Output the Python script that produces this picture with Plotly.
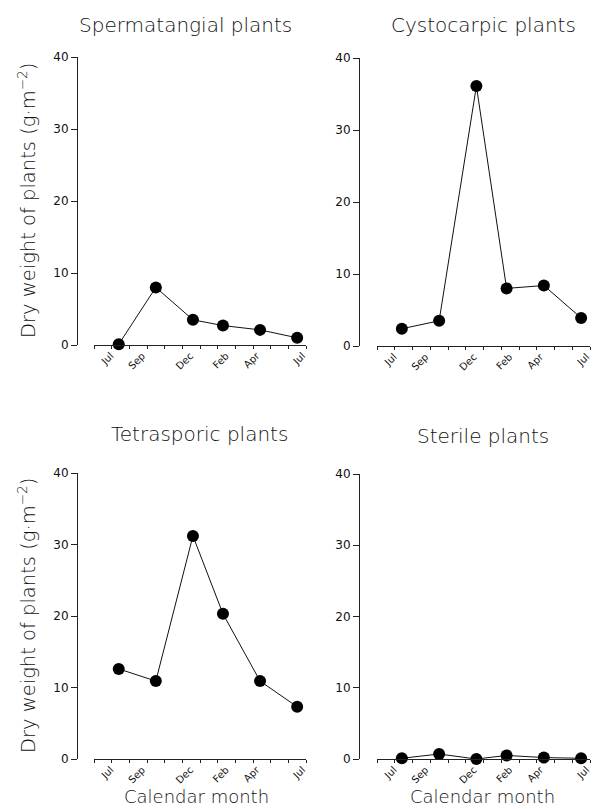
import plotly.graph_objects as go

# ---- data ----
months_x = [1.4, 3.5, 5.6, 7.3, 9.4, 11.5]   # sampling time, months after start of July
spermatangial = [0.1, 8.0, 3.5, 2.7, 2.1, 1.0]
cystocarpic = [2.4, 3.5, 36.1, 8.0, 8.4, 3.9]
tetrasporic = [12.6, 10.9, 31.2, 20.3, 10.9, 7.3]
sterile = [0.1, 0.7, 0.0, 0.5, 0.2, 0.1]

titles = ["Spermatangial plants", "Cystocarpic plants", "Tetrasporic plants", "Sterile plants"]
series = [spermatangial, cystocarpic, tetrasporic, sterile]

month_label_pos = [0.95, 2.73, 5.45, 7.47, 9.2, 11.8]
month_labels = ["Jul", "Sep", "Dec", "Feb", "Apr", "Jul"]
minor_pos = list(range(13))
y_ticks = [0, 10, 20, 30, 40]

W, H = 605, 809
OFF = 8  # page body margin
FONT = "DejaVu Sans"


def px(x):
    return (x - OFF) / W


def py(y):
    return 1 - (y - OFF) / H


# panel geometry in screen pixels: yaxis_x, x_start, x_end, y_zero, y_top, title_x, title_y
panels = [
    (77, 94, 306, 345, 57, 185, 25),
    (359, 377, 590, 346, 58, 483, 25),
    (77, 94, 306, 759, 473, 199, 434),
    (359, 377, 590, 759, 474, 483, 436),
]

fig = go.Figure()
layout = {}
annotations = []
for i, (vals, title, (yx, x0, x1, yz, yt, tx, ty)) in enumerate(zip(series, titles, panels)):
    n = "" if i == 0 else str(i + 1)
    xa, ya = "x" + n, "y" + n
    fig.add_trace(go.Scatter(
        x=months_x, y=vals, xaxis=xa, yaxis=ya, mode="lines+markers",
        line=dict(color="#111", width=1),
        marker=dict(color="#000", size=12),
        showlegend=False, cliponaxis=False,
    ))
    layout["xaxis" + n] = dict(
        domain=[px(x0), px(x1)], anchor=ya, range=[0, 12],
        showline=True, linecolor="#222", linewidth=1.2,
        tickmode="array", tickvals=month_label_pos, ticktext=month_labels,
        ticks="", tickangle=-45, showgrid=False, zeroline=False,
        tickfont=dict(family=FONT, size=10, color="#111"),
        minor=dict(tickvals=minor_pos, ticks="outside", ticklen=3,
                   tickcolor="#222", tickwidth=1, showgrid=False),
    )
    layout["yaxis" + n] = dict(
        domain=[py(yz), py(yt)], anchor="free", position=px(yx),
        range=[0, 40], tickvals=y_ticks, showline=True, linecolor="#222",
        linewidth=1, ticks="outside", ticklen=6, tickcolor="#222",
        showgrid=False, zeroline=False,
        tickfont=dict(family=FONT, size=12, color="#111"),
    )
    annotations.append(dict(
        text=title, x=px(tx), y=py(ty),
        xref="paper", yref="paper", showarrow=False,
        font=dict(family=FONT, size=20, color="#111", weight=200),
        xanchor="center", yanchor="middle",
    ))
    if i in (0, 2):
        annotations.append(dict(
            text="Dry weight of plants (g·m<sup>−2</sup>)", textangle=-90,
            x=px(27), y=py((yz + yt) / 2), xref="paper", yref="paper",
            showarrow=False, font=dict(family=FONT, size=19.5, color="#111", weight=200),
            xanchor="center", yanchor="middle",
        ))
    if i in (2, 3):
        annotations.append(dict(
            text="Calendar month", x=px(196 if i == 2 else 482), y=py(796),
            xref="paper", yref="paper", showarrow=False,
            font=dict(family=FONT, size=18, color="#111", weight=200),
            xanchor="center", yanchor="middle",
        ))

fig.update_layout(
    width=W, height=H, margin=dict(l=0, r=0, t=0, b=0, autoexpand=False),
    paper_bgcolor="white", plot_bgcolor="white",
    annotations=annotations, **layout,
)
fig.write_html("out.html")
